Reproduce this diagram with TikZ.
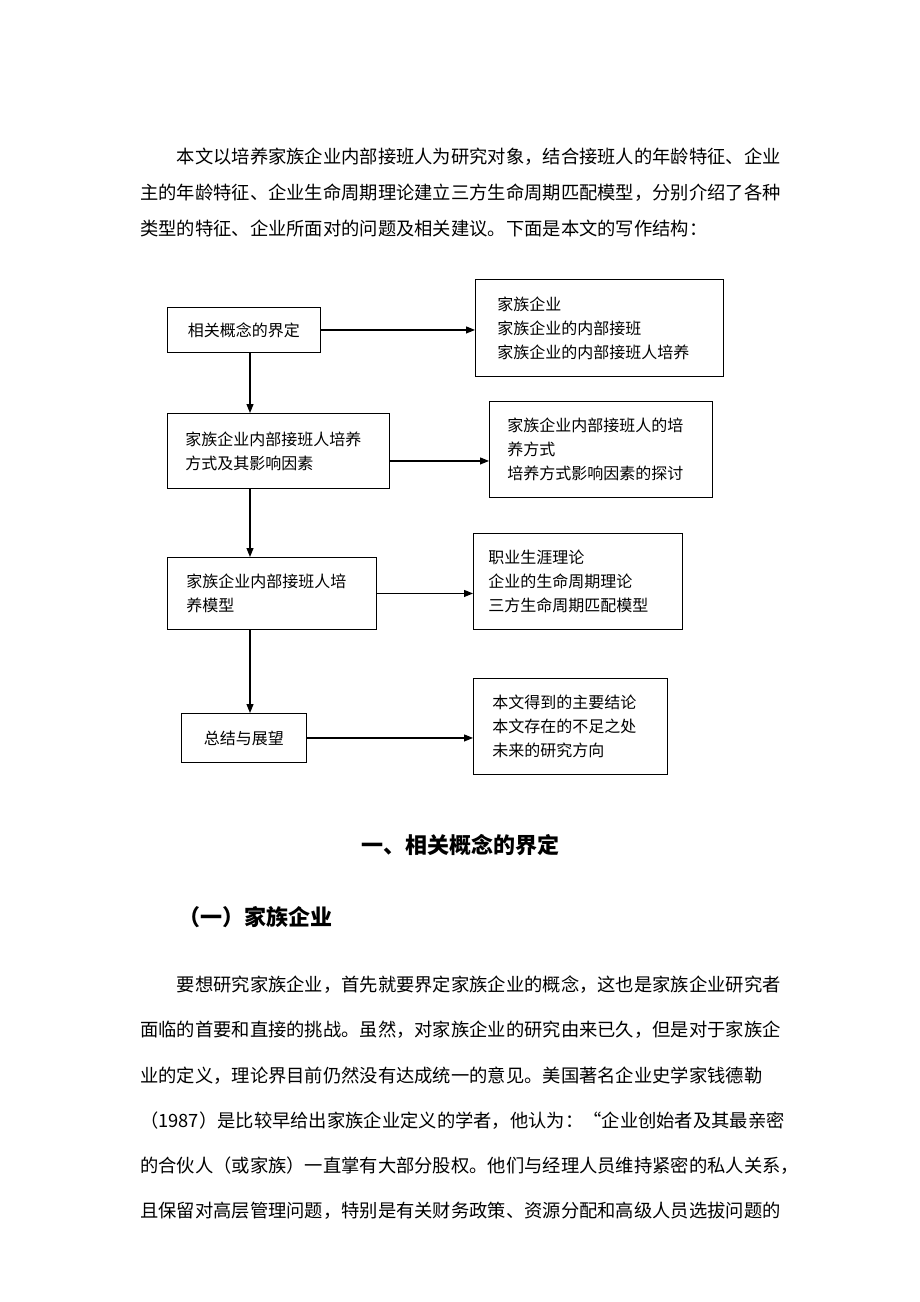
\documentclass[tikz,border=0pt]{standalone}
\usepackage{fontspec}
\setmainfont{Noto Sans CJK SC}
\usetikzlibrary{arrows.meta}
\XeTeXlinebreaklocale "zh"
\XeTeXlinebreakskip=0pt plus 2pt minus 0.6pt

\newcommand\bodyfont{\fontsize{18.3}{36}\selectfont}
\newcommand\boxfont{\fontsize{16}{24}\selectfont}
\newcommand\headfont{\fontsize{22}{26}\selectfont\bfseries}
\newcommand\fline[1]{\makebox[640pt][s]{#1}}

\tikzset{
  box/.style={draw, line width=0.9pt, inner sep=0pt, font=\boxfont, align=left, anchor=north west},
  link/.style={-{Triangle[length=9pt,width=7pt]}, line width=1.1pt},
  txt/.style={inner sep=0pt, anchor=west, font=\bodyfont},
}

\begin{document}
\begin{tikzpicture}[x=1pt,y=-1pt]
    \useasboundingbox[fill=white] (0,0) rectangle (920,1302);
    \node[txt] (pa1) at (140,157) {\fline{\hspace*{2em}本文以培养家族企业内部接班人为研究对象，结合接班人的年龄特征、企业}};
    \node[txt] (pa2) at (140,193) {\fline{主的年龄特征、企业生命周期理论建立三方生命周期匹配模型，分别介绍了各种}};
    \node[txt] (pa3) at (140,229) {类型的特征、企业所面对的问题及相关建议。下面是本文的写作结构：};
    \node[box, minimum width=153pt, minimum height=45pt, align=center] (gainian) at (167,307) {相关概念的界定};
    \node[box, minimum width=222pt, minimum height=75pt, text width=186pt] (fangshi) at (167,413) {家族企业内部接班人培养\\方式及其影响因素};
    \node[box, minimum width=209pt, minimum height=72pt, text width=171pt] (moxing) at (167,557) {家族企业内部接班人培\\养模型};
    \node[box, minimum width=125pt, minimum height=49pt, align=center] (zongjie) at (181,713) {总结与展望};
    \node[box, minimum width=248pt, minimum height=97pt, text width=204pt] (gainianR) at (475,279) {家族企业\\家族企业的内部接班\\家族企业的内部接班人培养};
    \node[box, minimum width=223pt, minimum height=96pt, text width=187pt] (fangshiR) at (489,401) {家族企业内部接班人的培\\养方式\\培养方式影响因素的探讨};
    \node[box, minimum width=209pt, minimum height=96pt, text width=179pt] (moxingR) at (473,533) {职业生涯理论\\企业的生命周期理论\\三方生命周期匹配模型};
    \node[box, minimum width=194pt, minimum height=96pt, text width=156pt] (zongjieR) at (473,678) {本文得到的主要结论\\本文存在的不足之处\\未来的研究方向};
    \coordinate (axis) at (250,0);
    \draw[link] (gainian.south -| axis) -- (fangshi.north -| axis);
    \draw[link] (fangshi.south -| axis) -- (moxing.north -| axis);
    \draw[link] (moxing.south -| axis) -- (zongjie.north -| axis);
    \draw[link] (gainian.east) -- (gainian.east -| gainianR.west);
    \draw[link] ([yshift=-10pt]fangshi.east) -- ([yshift=-10pt]fangshi.east -| fangshiR.west);
    \draw[link] (moxing.east) -- (moxing.east -| moxingR.west);
    \draw[link] (zongjie.east) -- (zongjie.east -| zongjieR.west);
    \node[font=\headfont, inner sep=0pt] (biaoti) at (460,845) {一、相关概念的界定};
    \node[font=\headfont, inner sep=0pt, anchor=west] (xiaobiaoti) at (178,917) {（一）家族企业};
    \node[txt] (pb1) at (140,985) {\fline{\hspace*{2em}要想研究家族企业，首先就要界定家族企业的概念，这也是家族企业研究者}};
    \node[txt] (pb2) at (140,1030) {\fline{面临的首要和直接的挑战。虽然，对家族企业的研究由来已久，但是对于家族企}};
    \node[txt] (pb3) at (140,1076) {\fline{业的定义，理论界目前仍然没有达成统一的意见。美国著名企业史学家钱德勒}};
    \node[txt] (pb4) at (140,1121) {\fline{（1987）是比较早给出家族企业定义的学者，他认为：“企业创始者及其最亲密}};
    \node[txt] (pb5) at (140,1166) {\fline{的合伙人（或家族）一直掌有大部分股权。他们与经理人员维持紧密的私人关系，}};
    \node[txt] (pb6) at (140,1211) {\fline{且保留对高层管理问题，特别是有关财务政策、资源分配和高级人员选拔问题的}};
\end{tikzpicture}
\end{document}
